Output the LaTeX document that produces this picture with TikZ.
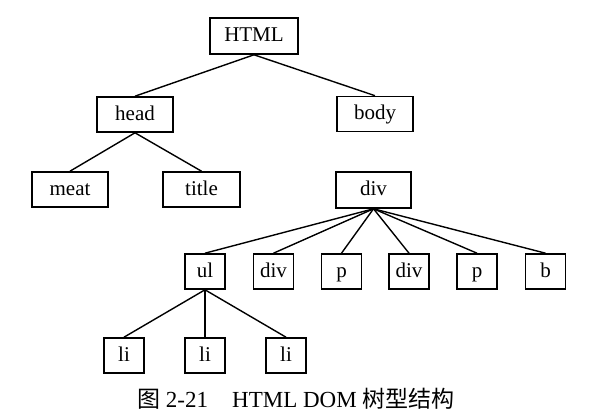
\documentclass[tikz,border=0pt]{standalone}
\usepackage{fontspec}
\setmainfont{Liberation Serif}
\newfontfamily\cjk{Noto Sans CJK SC}
\begin{document}
\begin{tikzpicture}[x=1pt,y=1pt,
  box/.style={draw,line width=1.6pt,inner sep=0pt,font=\fontsize{21}{25}\selectfont,
    minimum height=35pt,text height=16pt,text depth=4pt},
  wide/.style={minimum width=76pt},
  narrow/.style={minimum width=40pt},
  edge/.style={line width=1.4pt},
  captext/.style={anchor=base west,inner sep=0pt,font=\fontsize{23}{27}\selectfont}]
\fill[white] (0,0) rectangle (597,-419);
\useasboundingbox (0,0) rectangle (597,-419);
% nodes
\node[box,minimum width=88pt,minimum height=36pt] (html) at (254,-36) {HTML};
\node[box,wide] (head) at (135,-114.5) {head};
\node[box,wide] (body) at (375,-114) {body};
\node[box,wide] (meat) at (70,-189.5) {meat};
\node[box,minimum width=77pt] (title) at (201.5,-189.5) {title};
\node[box,minimum width=75pt,minimum height=36pt] (div) at (373.5,-190) {div};
\node[box,narrow] (ul) at (205,-271.5) {ul};
\node[box,narrow] (div2) at (273.5,-271.5) {div};
\node[box,narrow] (p1) at (341.5,-271.5) {p};
\node[box,narrow] (div3) at (409,-271.5) {div};
\node[box,narrow] (p2) at (477,-271.5) {p};
\node[box,narrow] (b) at (545.5,-271.5) {b};
\node[box,narrow] (li1) at (124,-355.5) {li};
\node[box,narrow] (li2) at (205,-355.5) {li};
\node[box,narrow] (li3) at (286,-355.5) {li};
% edges
\draw[edge] (html.south) -- (head.north);
\draw[edge] (html.south) -- (body.north);
\draw[edge] (head.south) -- (meat.north);
\draw[edge] (head.south) -- (title.north);
\foreach \c in {ul,div2,p1,div3,p2,b} \draw[edge] (div.south) -- (\c.north);
\foreach \c in {li1,li2,li3} \draw[edge] (ul.south) -- (\c.north);
% caption
\node[captext] (capnum) at (137,-407) {{\cjk 图} 2-21};
\node[captext] (captxt) at (232,-407) {HTML DOM {\cjk 树型结构}};
\end{tikzpicture}
\end{document}
